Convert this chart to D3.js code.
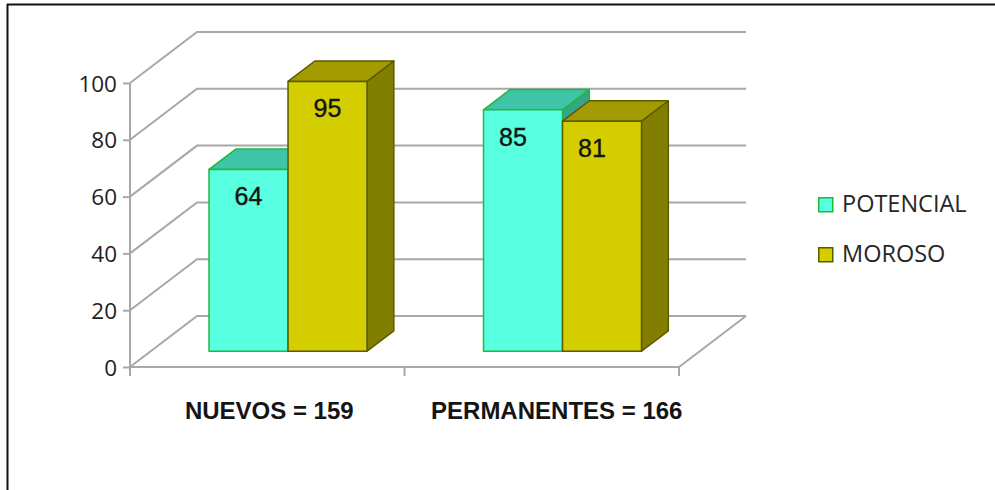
<!DOCTYPE html>
<html>
<head>
<meta charset="utf-8">
<script src="https://cdn.jsdelivr.net/npm/d3@7"></script>
<style>
  html, body { margin: 0; padding: 0; background: #fff; }
  svg { display: block; }
</style>
</head>
<body>
<svg id="chart" width="995" height="490"></svg>
<script>
// Chart data
const categories = ["NUEVOS = 159", "PERMANENTES = 166"];
const seriesNames = ["POTENCIAL", "MOROSO"];
const potencial = [64, 85];
const moroso = [95, 81];
const yTicks = [0, 20, 40, 60, 80, 100];

const seriesValues = [potencial, moroso];

// Colours per series: front, top, side, outline
const palette = [
  { front: "#58FFE0", top: "#40C4A8", side: "#36A38B", stroke: "#22B83A" },
  { front: "#D4CE00", top: "#A29C00", side: "#827F00", stroke: "#5C5A00" }
];

const svg = d3.select("#chart");

// Frame lines (top and left)
svg.append("line").attr("x1", 7).attr("x2", 995).attr("y1", 4.5).attr("y2", 4.5)
  .attr("stroke", "#111").attr("stroke-width", 2);
svg.append("line").attr("x1", 7.5).attr("x2", 7.5).attr("y1", 4).attr("y2", 490)
  .attr("stroke", "#111").attr("stroke-width", 2);

// Front plane geometry and oblique depth projection
const x0 = 130, x1 = 679;
const y = d3.scaleLinear().domain([0, 100]).range([367, 83]);
const xCat = d3.scaleBand().domain(categories).range([x0, x1]).paddingInner(0).paddingOuter(0);
const depthX = 67, depthY = -51;
const proj = (px, py, z) => [px + z * depthX, py + z * depthY];

const gridColor = "#A8A8A8";
const grid = svg.append("g").attr("fill", "none").attr("stroke", gridColor).attr("stroke-width", 2);

// Wall gridlines: diagonal on the left wall, then across the back wall
yTicks.forEach(t => {
  const a = proj(x0, y(t), 0), b = proj(x0, y(t), 1), c = proj(x1, y(t), 1);
  grid.append("path").attr("d", d3.line()([a, b, c]));
});
// Floor front and right edges
grid.append("path").attr("d", d3.line()([proj(x0, y(0), 0), proj(x1, y(0), 0), proj(x1, y(0), 1)]));

// Category boundary ticks
const boundaries = [x0].concat(categories.map(c => xCat(c) + xCat.bandwidth()));
boundaries.forEach(bx => {
  grid.append("line").attr("x1", bx).attr("x2", bx).attr("y1", y(0)).attr("y2", y(0) + 9);
});

// Value axis
const yAxis = svg.append("g")
  .attr("transform", `translate(${x0},0)`)
  .call(d3.axisLeft(y).tickValues(yTicks).tickSize(7).tickPadding(6).tickSizeOuter(0));
yAxis.select(".domain").remove();
yAxis.append("line").attr("x1", 0).attr("x2", 0).attr("y1", y(100)).attr("y2", y(0) + 5)
  .attr("stroke", gridColor).attr("stroke-width", 2);
yAxis.selectAll(".tick line").attr("stroke", gridColor).attr("stroke-width", 2);
yAxis.selectAll(".tick text")
  .attr("font-family", "'Open Sans', sans-serif")
  .attr("font-size", 22.5)
  .attr("font-weight", 500)
  .attr("fill", "#1e1e1e")
  .attr("dy", "0.36em");

// Bars
const zFront = 0.31, zBack = 0.71;
const groupWidth = 158;
const xSeries = d3.scaleBand().domain(seriesNames).range([0, groupWidth]);
const bars = svg.append("g");
const labelShift = [0, -10];

categories.forEach((cat, ci) => {
  const left = xCat(cat) + xCat.bandwidth() / 2 - groupWidth / 2;
  seriesNames.forEach((s, si) => {
    const v = seriesValues[si][ci];
    const col = palette[si];
    const bx0 = left + xSeries(s), bx1 = bx0 + xSeries.bandwidth();
    const yb = y(0), yt = y(v);
    const F = (px, py) => proj(px, py, zFront);
    const B = (px, py) => proj(px, py, zBack);
    const g = bars.append("g").attr("stroke", col.stroke).attr("stroke-width", 1.5)
      .attr("stroke-linejoin", "round");
    // side face
    g.append("path").attr("fill", col.side)
      .attr("d", d3.line()([F(bx1, yb), B(bx1, yb), B(bx1, yt), F(bx1, yt)]) + "Z");
    // top face
    g.append("path").attr("fill", col.top)
      .attr("d", d3.line()([F(bx0, yt), F(bx1, yt), B(bx1, yt), B(bx0, yt)]) + "Z");
    // front face
    const f0 = F(bx0, yt), f1 = F(bx1, yb);
    g.append("rect").attr("fill", col.front)
      .attr("x", f0[0]).attr("y", f0[1]).attr("width", f1[0] - f0[0]).attr("height", f1[1] - f0[1]);
    // value label
    bars.append("text")
      .attr("x", (f0[0] + f1[0]) / 2 + labelShift[ci])
      .attr("y", f0[1] + 36)
      .attr("text-anchor", "middle")
      .attr("font-family", "'Liberation Sans', Arial, sans-serif")
      .attr("font-size", 25)
      .attr("stroke", "#141414")
      .attr("stroke-width", 0.4)
      .attr("fill", "#141414")
      .text(v);
  });
});

// Category labels
const catShift = [2, 15];
categories.forEach((cat, ci) => {
  svg.append("text")
    .attr("x", xCat(cat) + xCat.bandwidth() / 2 + catShift[ci])
    .attr("y", 419)
    .attr("text-anchor", "middle")
    .attr("font-family", "'Liberation Sans', Arial, sans-serif")
    .attr("font-weight", "bold")
    .attr("font-size", 24)
    .attr("fill", "#151515")
    .text(cat);
});

// Legend
const legend = svg.append("g").attr("transform", "translate(818,197)");
seriesNames.forEach((s, si) => {
  const row = legend.append("g").attr("transform", `translate(0,${si * 50})`);
  row.append("rect").attr("x", 0.75).attr("y", 0.75).attr("width", 14).attr("height", 14)
    .attr("fill", palette[si].front).attr("stroke", palette[si].stroke).attr("stroke-width", 1.5);
  row.append("text").attr("x", 24).attr("y", 14.5)
    .attr("font-family", "'Open Sans', sans-serif")
    .attr("font-size", 23.5)
    .attr("fill", "#262626")
    .text(s);
});
</script>
</body>
</html>
